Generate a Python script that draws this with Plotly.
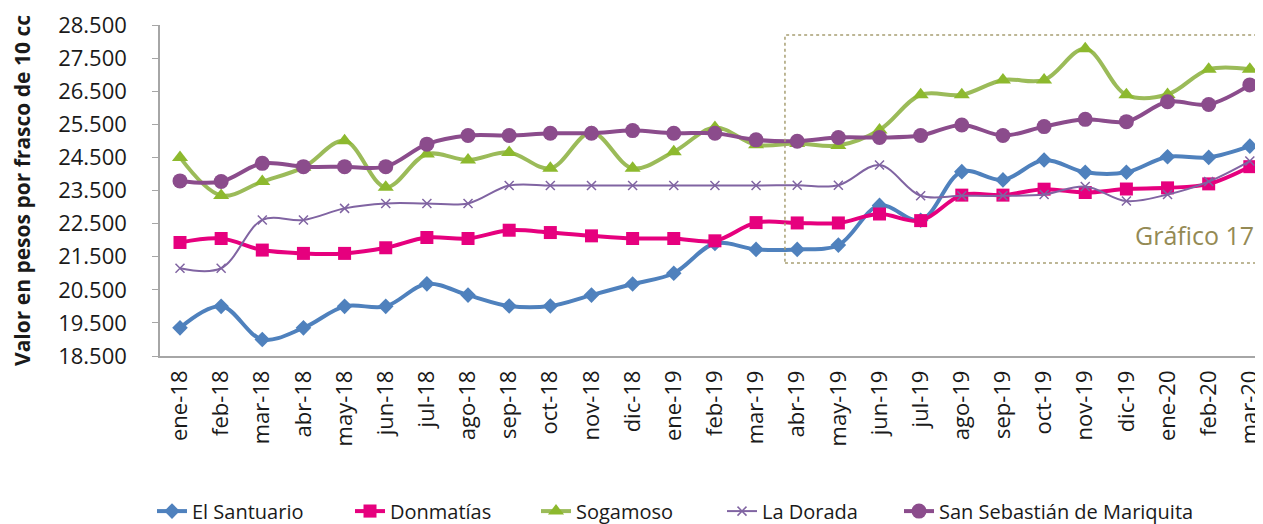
import plotly.graph_objects as go

months = ["ene-18", "feb-18", "mar-18", "abr-18", "may-18", "jun-18", "jul-18", "ago-18", "sep-18",
          "oct-18", "nov-18", "dic-18", "ene-19", "feb-19", "mar-19", "abr-19", "may-19", "jun-19",
          "jul-19", "ago-19", "sep-19", "oct-19", "nov-19", "dic-19", "ene-20", "feb-20", "mar-20"]

el_santuario = [19350, 20000, 19000, 19350, 20000, 20000, 20680, 20340, 20010, 20010, 20340, 20675,
                21000, 21900, 21720, 21720, 21850, 23050, 22600, 24070, 23820, 24420, 24050, 24050,
                24520, 24500, 24840]
donmatias = [21930, 22050, 21700, 21600, 21600, 21770, 22080, 22050, 22300, 22230, 22130, 22050,
             22050, 21980, 22530, 22520, 22520, 22790, 22590, 23360, 23360, 23540, 23440, 23545,
             23580, 23700, 24220]
sogamoso = [24500, 23350, 23770, 24200, 25000, 23600, 24600, 24420, 24650, 24170, 25250, 24170,
            24670, 25400, 24880, 24920, 24860, 25330, 26390, 26390, 26840, 26840, 27780, 26390,
            26400, 27160, 27160]
la_dorada = [21150, 21150, 22610, 22610, 22960, 23110, 23110, 23110, 23650, 23650, 23650, 23650,
             23650, 23650, 23650, 23660, 23660, 24270, 23340, 23340, 23340, 23380, 23620, 23180,
             23380, 23770, 24390]
mariquita = [23790, 23770, 24320, 24220, 24220, 24220, 24900, 25160, 25160, 25230, 25230, 25310,
             25230, 25230, 25030, 24990, 25100, 25100, 25160, 25480, 25160, 25430, 25650, 25580,
             26180, 26100, 26690]

y_ticks = list(range(18500, 28501, 1000))

FONT = "Open Sans"
TXT = "#1a1a1a"

series = [
    ("El Santuario", el_santuario, "#4F81BD", 4, dict(symbol="diamond", size=12)),
    ("Donmatías", donmatias, "#E6007E", 4, dict(symbol="square", size=13)),
    ("Sogamoso", sogamoso, "#9BBB59", 4, dict(symbol="triangle-up", size=14, color="#8DB92E")),
    ("La Dorada", la_dorada, "#8064A2", 2, dict(symbol="x-thin", size=9,
                                               line=dict(width=1.5, color="#8064A2"))),
    ("San Sebastián de Mariquita", mariquita, "#8B4C8C", 4, dict(symbol="circle", size=15)),
]

# left edge (px, in figure coords) of each legend entry
legend_x_px = [144, 342, 528, 714, 891]
FIG_W, FIG_H = 1255, 516

fig = go.Figure()
legend_layout = {}
for i, (name, vals, color, lw, mk) in enumerate(series):
    m = dict(color=color)
    m.update(mk)
    lg = "legend" if i == 0 else f"legend{i + 1}"
    fig.add_trace(go.Scatter(
        x=list(range(len(months))), y=vals, name=name, mode="lines+markers",
        line=dict(color=color, width=lw, shape="spline", smoothing=1.0),
        marker=m, legend=lg,
    ))
    legend_layout[lg] = dict(orientation="h", xref="container", yref="container",
                             x=legend_x_px[i] / FIG_W, y=0.025, xanchor="left", yanchor="middle",
                             font=dict(size=20, color=TXT), itemwidth=30,
                             bgcolor="rgba(0,0,0,0)")

# page body has an 8px default margin, so the figure is 8px smaller on each axis
fig.update_layout(
    width=FIG_W, height=FIG_H,
    margin=dict(l=152, r=0, t=17, b=168),
    paper_bgcolor="white", plot_bgcolor="white",
    separators=",.",
    font=dict(family=FONT, size=22, color=TXT),
    showlegend=True,
    xaxis=dict(
        tickmode="array", tickvals=list(range(len(months))), ticktext=months,
        tickangle=-90, range=[-0.486, 26.32], showgrid=False, zeroline=False,
        showline=True, linecolor="#A6A6A6", linewidth=1.5, ticks="",
        tickfont=dict(size=22, color=TXT), ticklabelstandoff=4, automargin=False,
    ),
    yaxis=dict(
        tickvals=y_ticks, tickformat=",d", range=[18500, 28500], showgrid=False,
        zeroline=False, showline=True, linecolor="#A6A6A6", linewidth=1.5,
        ticks="outside", ticklen=6, tickcolor="#A6A6A6", ticklabelstandoff=21,
        tickfont=dict(size=22, color=TXT), automargin=False,
        title=dict(text="<b>Valor en pesos por frasco de 10 cc</b>", standoff=22,
                   font=dict(size=21, color=TXT)),
    ),
    shapes=[dict(type="rect", xref="paper", yref="paper", x0=0.5666, x1=1.02, y0=0.281, y1=0.9698,
                 line=dict(color="#A89F73", width=1.5, dash="dot"), fillcolor="rgba(0,0,0,0)")],
    annotations=[dict(text="Gráfico 17", xref="paper", yref="paper", x=0.9937, y=0.365,
                      xanchor="right", yanchor="middle", showarrow=False,
                      font=dict(family=FONT, size=25, color="#948A54"))],
    **legend_layout,
)

fig.write_html("out.html")
